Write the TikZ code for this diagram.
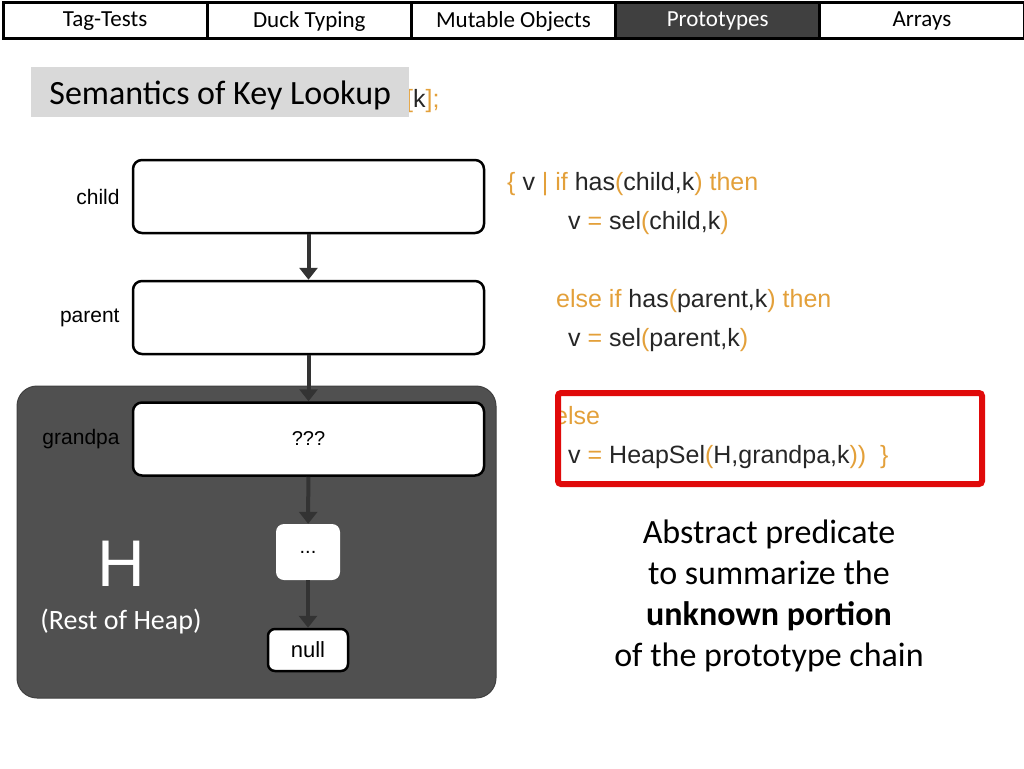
\documentclass[tikz,border=0pt]{standalone}
\usepackage{fontspec}
\setmainfont{Carlito}
\newfontfamily\arialfont{Liberation Sans}
\usetikzlibrary{arrows.meta,positioning}
\definecolor{kwc}{HTML}{E3A03A}
\definecolor{heapgray}{HTML}{505050}
\definecolor{arrowgray}{HTML}{333333}
\definecolor{tabdark}{HTML}{404040}
\definecolor{titlegray}{HTML}{D9D9D9}
\definecolor{boxred}{HTML}{E00A0A}
\newcommand{\kw}[1]{\textcolor{kwc}{#1}}
\begin{document}
\begin{tikzpicture}[x=1pt,y=-1pt,
    tab/.style={draw=black,line width=3pt,minimum width=204.2pt,minimum height=36pt,
      inner sep=0pt,anchor=north west,font=\fontsize{23}{27}\selectfont},
    obj/.style={draw=black,line width=2.5pt,rounded corners=9pt,fill=white,
      minimum width=351pt,minimum height=73pt,font=\arialfont\fontsize{20}{24}\selectfont},
    lbl/.style={inner sep=0pt,font=\arialfont\fontsize{21}{25}\selectfont},
    link/.style={draw=arrowgray,line width=4pt,-{Triangle[length=12pt,width=18pt]}},
    code/.style={anchor=base west,inner sep=0pt,text=black!85,font=\arialfont\fontsize{25}{30}\selectfont}]
  \useasboundingbox (0,0) rectangle (1024,768);
  % tab bar
  \node[tab] (t1) at (1.5,1.5) {Tag-Tests};
  \node[tab] (t2) at (205.7,1.5) {Duck Typing};
  \node[tab] (t3) at (409.9,1.5) {Mutable Objects};
  \node[tab,fill=tabdark,text=white] (t4) at (614.1,1.5) {Prototypes};
  \node[tab] (t5) at (818.3,1.5) {Arrays};
  % title
  \node[code] (lookup) at (406,107) {\kw{[}k\kw{];}};
  \node[fill=titlegray,minimum width=378pt,minimum height=50pt,anchor=north west,
    text depth=0pt,font=\fontsize{34}{40}\selectfont] (title) at (31,67) {Semantics of Key Lookup};
  % heap
  \node[fill=heapgray,draw=black!75,line width=1pt,rounded corners=20pt,
    minimum width=479pt,minimum height=312pt] (heap) at (256.5,542) {};
  \node[text=white,font=\arialfont\fontsize{66}{70}\selectfont] (h) at (121,564) {H};
  \node[text=white,font=\fontsize{28}{32}\selectfont] (rest) at (121,622) {(Rest of Heap)};
  % chain
  \node[obj] (child) at (308.5,196.5) {};
  \node[obj] (parent) at (308.5,317.5) {};
  \node[obj] (grandpa) at (308.5,439) {???};
  \node[fill=white,rounded corners=8pt,minimum width=64pt,minimum height=56pt,
    font=\arialfont\fontsize{20}{24}\selectfont] (dots) at (308,552) {...};
  \node[draw=black,line width=2.5pt,fill=white,rounded corners=7pt,minimum width=80pt,
    minimum height=42pt,font=\arialfont\fontsize{22}{26}\selectfont] (null) at (308,650) {null};
  \node[lbl,left=12pt of child] (childlbl) {child};
  \node[lbl,left=12pt of parent] (parentlbl) {parent};
  \node[lbl,left=12pt of grandpa] (grandpalbl) {grandpa};
  \draw[link] (child) -- (parent);
  \draw[link] (parent) -- (grandpa);
  \draw[link] (grandpa) -- (dots);
  \draw[link] (dots) -- (null);
  % semantics
  \node[code] (l1) at (507,190) {\kw{\{} v \kw{| if} has\kw{(}child,k\kw{) then}};
  \node[code] (l2) at (568,229) {v \kw{=} sel\kw{(}child,k\kw{)}};
  \node[code] (l3) at (556,307) {\kw{else if} has\kw{(}parent,k\kw{) then}};
  \node[code] (l4) at (568,346) {v \kw{=} sel\kw{(}parent,k\kw{)}};
  \node[code] (l5) at (554,424) {\kw{else}};
  \node[code] (l6) at (568,463) {v \kw{=} HeapSel\kw{(}H,grandpa,k\kw{))}\ \ \kw{\}}};
  \node[draw=boxred,line width=6pt,rounded corners=3pt,minimum width=424pt,
    minimum height=91pt,anchor=north west] (hl) at (555,390) {};
  % note
  \node[align=center,font=\fontsize{34}{41}\selectfont] (note) at (769,596)
    {Abstract predicate\\to summarize the\\\textbf{unknown portion}\\of the prototype chain};
\end{tikzpicture}
\end{document}
